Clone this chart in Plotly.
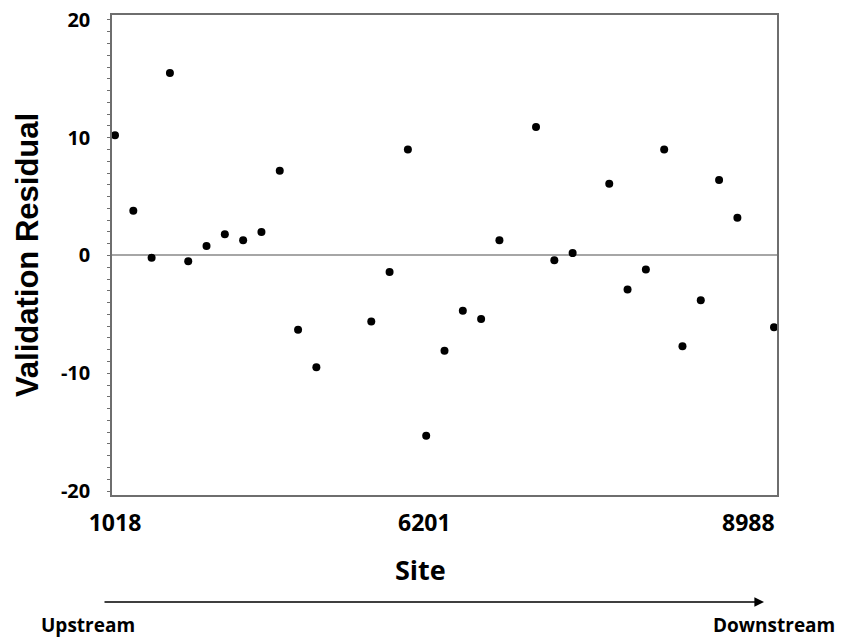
import plotly.graph_objects as go

# Site index along the river (0 = most upstream)
site_index = list(range(37))
# Validation residuals (None = no value at that site position)
residuals = [10.2, 3.8, -0.2, 15.5, -0.5, 0.8, 1.8, 1.3, 2.0, 7.2,
             -6.3, -9.5, None, None, -5.6, -1.4, 9.0, -15.3, -8.1, -4.7,
             -5.4, 1.3, None, 10.9, -0.4, 0.2, None, 6.1, -2.9, -1.2,
             9.0, -7.7, -3.8, 6.4, 3.2, None, -6.1]
x_tick_positions = [0, 16.9, 34.6]
x_tick_labels = ["1018", "6201", "8988"]
y_tick_values = [-20, -10, 0, 10, 20]
y_tick_labels = ["-20", "-10", "0", "10", "20"]

frame_col = "#6e6e6e"

fig = go.Figure()
fig.add_trace(go.Scatter(
    x=site_index, y=residuals, mode="markers",
    marker=dict(color="black", size=8),
    showlegend=False,
))

fig.update_layout(
    width=842, height=638,
    margin=dict(l=112, r=65, t=15, b=143, autoexpand=False),
    paper_bgcolor="white", plot_bgcolor="white",
    font=dict(family="Open Sans", color="black"),
    xaxis=dict(
        range=[-0.164, 36.164], automargin=False,
        tickvals=x_tick_positions, ticktext=x_tick_labels,
        tickfont=dict(family="Open Sans", size=23, weight="bold", color="black"),
        ticks="", showgrid=False, zeroline=False,
        showline=True, linecolor=frame_col, linewidth=1.5, mirror=True,
        ticklabelstandoff=7,
    ),
    yaxis=dict(
        range=[-20.34, 20.42], automargin=False,
        tickvals=y_tick_values, ticktext=y_tick_labels,
        tickfont=dict(family="Open Sans", size=20, weight="bold", color="black"),
        ticks="outside", ticklen=3, tickcolor=frame_col, tickwidth=1,
        minor=dict(dtick=1, ticks="outside", ticklen=3, tickcolor=frame_col, tickwidth=1, showgrid=False),
        showgrid=False,
        zeroline=True, zerolinecolor="#a6a6a6", zerolinewidth=1.5,
        showline=True, linecolor=frame_col, linewidth=1.5, mirror=True,
        ticklabelstandoff=13,
        title=dict(text="Validation Residual",
                   font=dict(family="Liberation Sans", size=31, weight="bold", color="black"),
                   standoff=13),
    ),
    annotations=[
        dict(text="Site", xref="paper", yref="paper", x=(420 - 112) / 665, y=(495 - 569) / 480,
             showarrow=False, font=dict(family="Open Sans", size=27, weight="bold"),
             xanchor="center", yanchor="middle"),
        dict(text="Upstream", xref="paper", yref="paper", x=(39 - 112) / 665, y=(495 - 625) / 480,
             showarrow=False, font=dict(family="Open Sans", size=19, weight="bold"),
             xanchor="left", yanchor="middle"),
        dict(text="Downstream", xref="paper", yref="paper", x=(837 - 112) / 665, y=(495 - 625) / 480,
             showarrow=False, font=dict(family="Open Sans", size=19, weight="bold"),
             xanchor="right", yanchor="middle"),
        dict(text="", xref="paper", yref="paper", axref="pixel", ayref="pixel",
             x=(764 - 112) / 665, y=(495 - 602) / 480,
             ax=103 - 764, ay=0,
             showarrow=True, arrowhead=2, arrowsize=1.2, arrowwidth=1.6, arrowcolor="black"),
    ],
)

fig.write_html("out.html", config={"displayModeBar": False},
               post_script="document.body.style.margin='0';document.body.style.overflow='hidden';")
